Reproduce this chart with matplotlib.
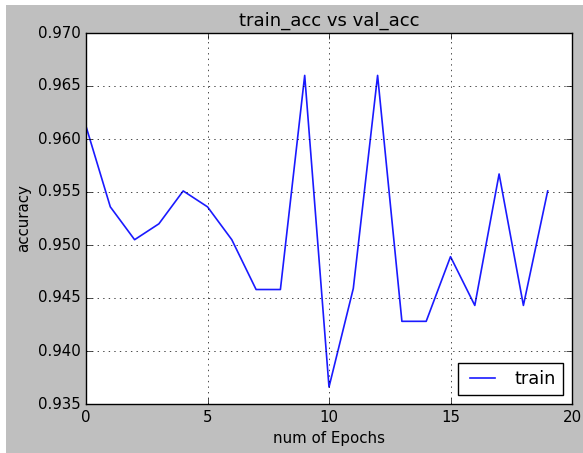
"""train vs val accuracy per epoch"""

import matplotlib
matplotlib.use('Agg')
import matplotlib.pyplot as plt
from matplotlib.patches import Rectangle
from matplotlib.ticker import FormatStrFormatter

epochs = list(range(20))
train_acc = [0.9612, 0.9536, 0.9505, 0.9520, 0.9551, 0.9536, 0.9505, 0.9458,
             0.9458, 0.9660, 0.9366, 0.9459, 0.9660, 0.9428, 0.9428, 0.9489,
             0.9443, 0.9567, 0.9443, 0.9551]

plt.style.use('classic')
plt.rcParams['font.size'] = 10.8

fig = plt.figure(figsize=(5.83, 4.53), dpi=100)
fig.patch.set_facecolor('white')
# the screenshot shows the grey figure with a small white margin top/left
fig.patches.append(Rectangle((6/583, 0), 1, 1 - 5/453, transform=fig.transFigure,
                             facecolor='0.75', edgecolor='none', zorder=-10))

ax = fig.add_axes([86/583, 49/453, 486/583, 371/453])
ax.plot(epochs, train_acc, color='#1a1aff', lw=1.2, label='train')
ax.set_xlim(0, 20)
ax.set_ylim(0.935, 0.970)
ax.yaxis.set_major_formatter(FormatStrFormatter('%.3f'))
ax.set_title('train_acc vs val_acc')
ax.set_xlabel('num of Epochs')
ax.set_ylabel('accuracy')
ax.grid(True)
ax.legend(loc='lower right', fontsize=12.8)

fig.savefig('out.png', dpi=100, facecolor=fig.get_facecolor())
